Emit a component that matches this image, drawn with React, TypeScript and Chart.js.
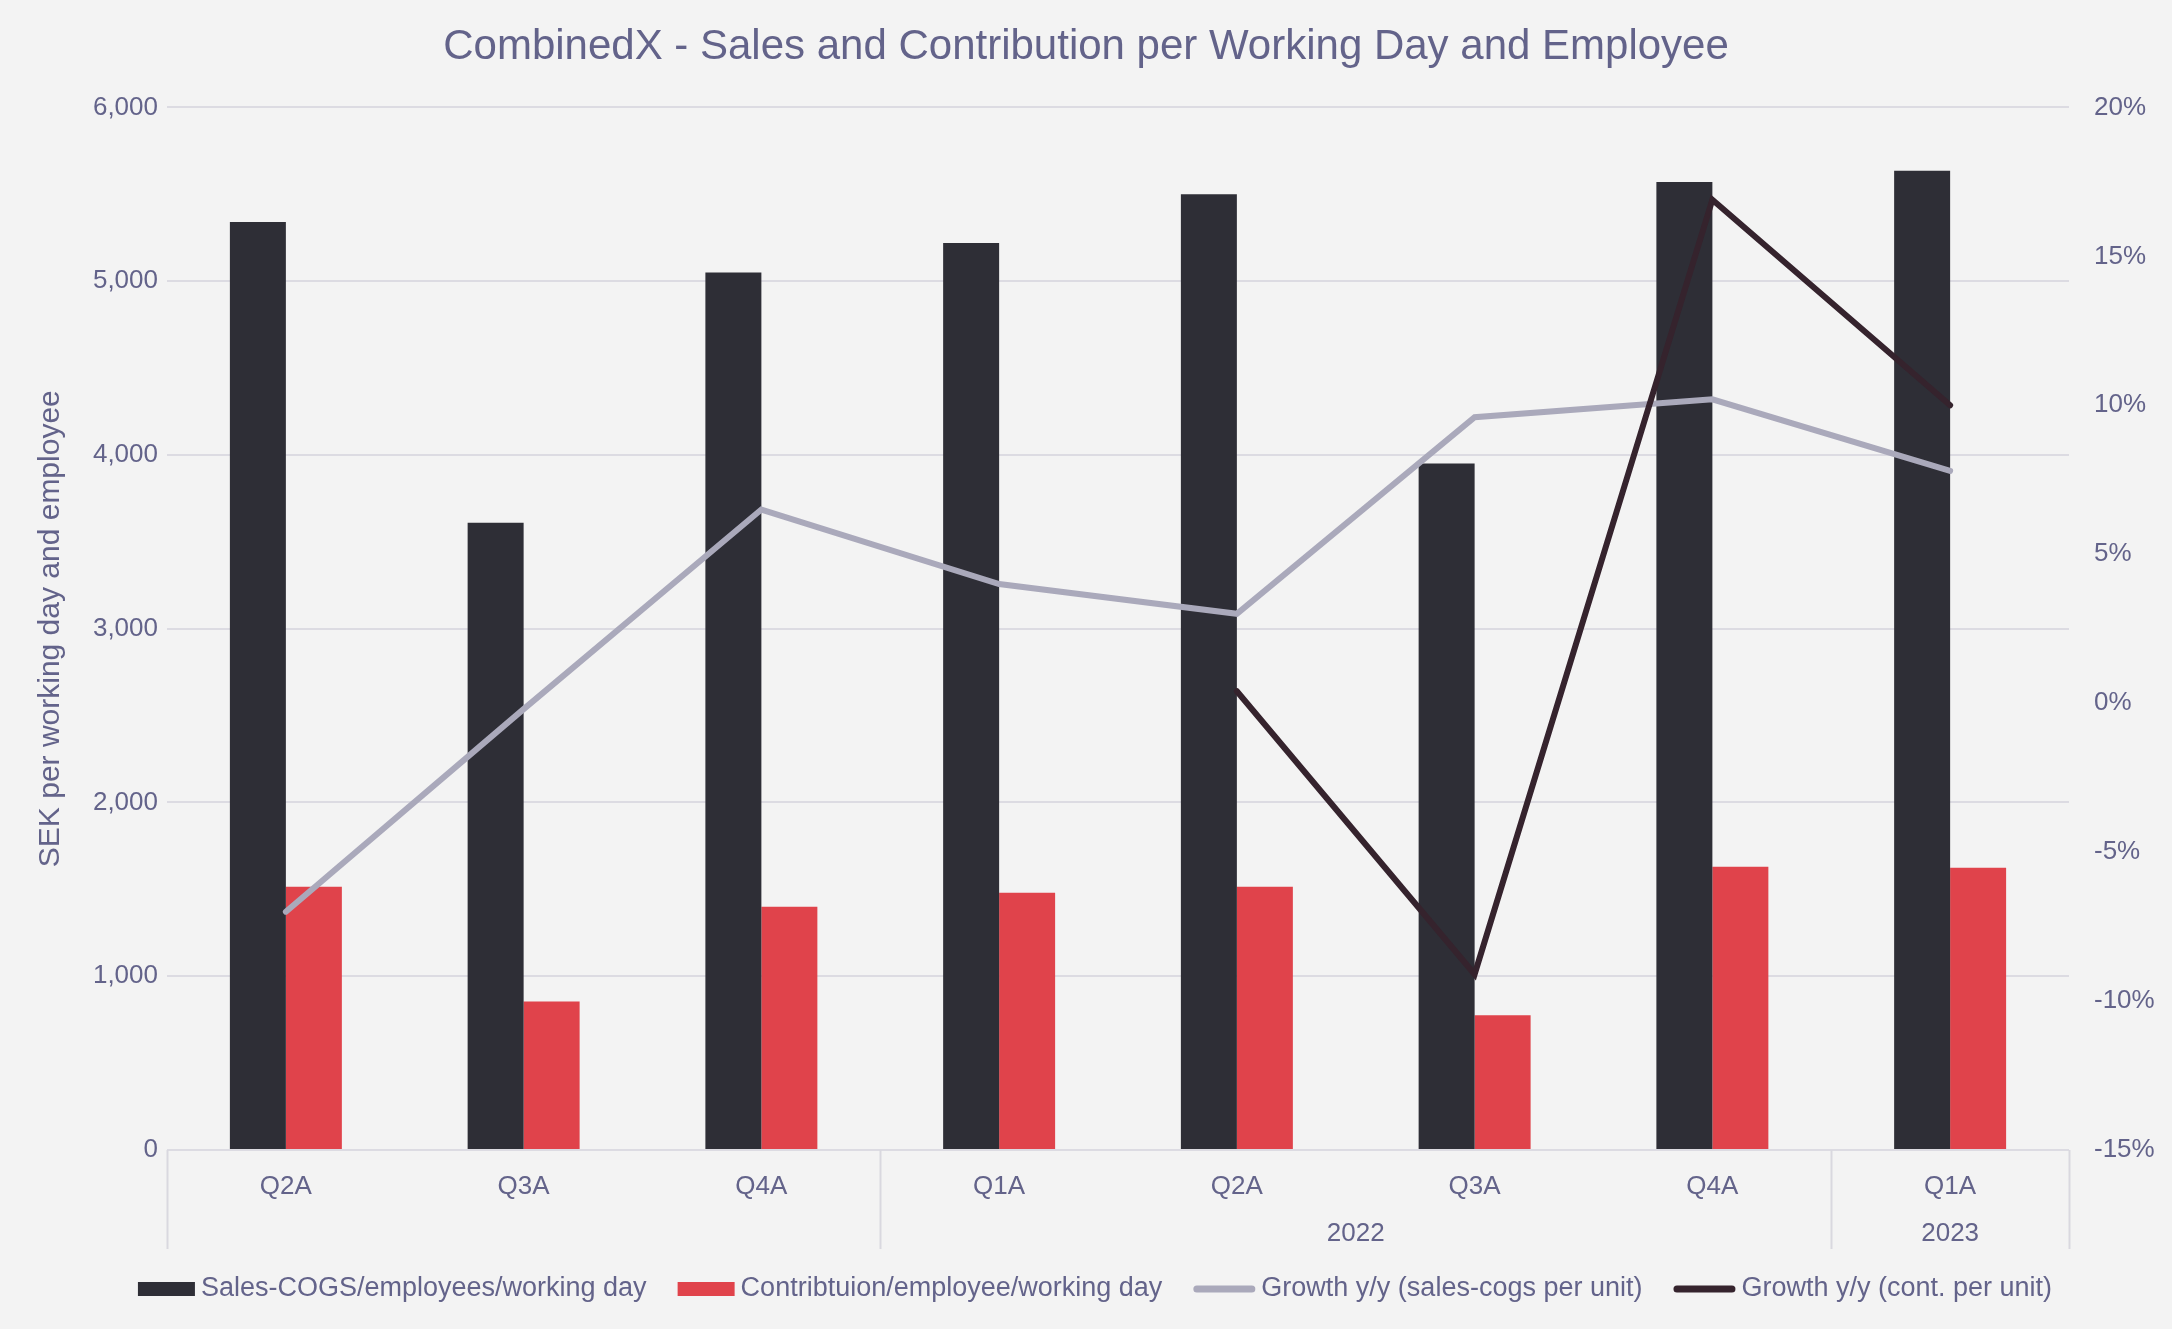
import React, { useEffect, useRef } from 'react';
import { Chart, registerables } from 'chart.js';

Chart.register(...registerables);

const quarters = ['Q2A', 'Q3A', 'Q4A', 'Q1A', 'Q2A', 'Q3A', 'Q4A', 'Q1A'];
const yearGroups = [
  { label: '', from: 0, to: 2 },
  { label: '2022', from: 3, to: 6 },
  { label: '2023', from: 7, to: 7 },
];
const salesCogs = [5340, 3610, 5050, 5220, 5500, 3950, 5570, 5635];
const contribution = [1515, 855, 1400, 1480, 1515, 775, 1630, 1625];
const growthSales = [-7.0, -0.2, 6.5, 4.0, 3.0, 9.6, 10.2, 7.8];
const growthContrib = [null, null, null, null, 0.4, -9.1, 16.9, 10.0];

const seriesNames = [
  'Sales-COGS/employees/working day',
  'Contribtuion/employee/working day',
  'Growth y/y (sales-cogs per unit)',
  'Growth y/y (cont. per unit)',
];
const colors = ['#2e2e36', '#e0434b', '#aaa9bb', '#35232d'];

const TEXT = '#63638a';
const FONT = "'Liberation Sans', Arial, sans-serif";
const BG = '#f3f3f3';

const groupPlugin = {
  id: 'groupAxis',
  afterDraw(chart: any) {
    const ctx = chart.ctx;
    const x = chart.scales.x;
    const step = x.getPixelForValue(1) - x.getPixelForValue(0);
    const top = chart.chartArea.bottom;
    ctx.save();
    ctx.strokeStyle = '#d9d8df';
    ctx.lineWidth = 2;
    const edges: number[] = [];
    yearGroups.forEach((g, i) => {
      if (i === 0) edges.push(x.getPixelForValue(g.from) - step / 2);
      edges.push(x.getPixelForValue(g.to) + step / 2);
    });
    edges.forEach((e) => {
      ctx.beginPath();
      ctx.moveTo(Math.round(e) + 0.5, top);
      ctx.lineTo(Math.round(e) + 0.5, top + 99);
      ctx.stroke();
    });
    ctx.fillStyle = TEXT;
    ctx.font = `26px ${FONT}`;
    ctx.textAlign = 'center';
    ctx.textBaseline = 'middle';
    yearGroups.forEach((g) => {
      if (!g.label) return;
      const cx = (x.getPixelForValue(g.from) + x.getPixelForValue(g.to)) / 2;
      ctx.fillText(g.label, cx, top + 84);
    });

    // legend
    ctx.font = `27px ${FONT}`;
    const markerW = [57, 57, 62, 62];
    const gap = 6;
    const itemGap = 31;
    const widths = seriesNames.map((n, i) => markerW[i] + gap + ctx.measureText(n).width);
    const total = widths.reduce((a, b) => a + b, 0) + itemGap * (widths.length - 1);
    let lx = (chart.width - total) / 2 + 9;
    const ly = 1289;
    seriesNames.forEach((n, i) => {
      if (i < 2) {
        ctx.fillStyle = colors[i];
        ctx.fillRect(lx, ly - 7, markerW[i], 14);
      } else {
        ctx.strokeStyle = colors[i];
        ctx.lineWidth = 7;
        ctx.lineCap = 'round';
        ctx.beginPath();
        ctx.moveTo(lx + 3.5, ly);
        ctx.lineTo(lx + markerW[i] - 3.5, ly);
        ctx.stroke();
      }
      ctx.fillStyle = TEXT;
      ctx.textAlign = 'left';
      ctx.fillText(n, lx + markerW[i] + gap, ly);
      lx += widths[i] + itemGap;
    });
    ctx.restore();
  },
};

export default function App() {
  const ref = useRef<HTMLCanvasElement>(null);
  useEffect(() => {
    document.body.style.margin = '0';
    document.body.style.background = BG;
    const chart = new Chart(ref.current as HTMLCanvasElement, {
      type: 'bar',
      data: {
        labels: quarters,
        datasets: [
          {
            type: 'bar',
            label: seriesNames[0],
            data: salesCogs,
            backgroundColor: colors[0],
            yAxisID: 'y',
            order: 2,
            categoryPercentage: 0.471,
            barPercentage: 1,
          },
          {
            type: 'bar',
            label: seriesNames[1],
            data: contribution,
            backgroundColor: colors[1],
            yAxisID: 'y',
            order: 2,
            categoryPercentage: 0.471,
            barPercentage: 1,
          },
          {
            type: 'line',
            label: seriesNames[2],
            data: growthSales,
            borderColor: colors[2],
            backgroundColor: colors[2],
            borderWidth: 6,
            borderCapStyle: 'round',
            pointRadius: 0,
            yAxisID: 'y1',
            order: 1,
          },
          {
            type: 'line',
            label: seriesNames[3],
            data: growthContrib,
            borderColor: colors[3],
            backgroundColor: colors[3],
            borderWidth: 6,
            borderCapStyle: 'round',
            pointRadius: 0,
            yAxisID: 'y1',
            order: 0,
            spanGaps: false,
          },
        ] as any,
      },
      options: {
        animation: false,
        responsive: false,
        maintainAspectRatio: false,
        layout: { padding: { left: 0, right: 0, top: 0, bottom: 69 } },
        plugins: {
          legend: { display: false },
          tooltip: { enabled: false },
          title: {
            display: true,
            text: 'CombinedX - Sales and Contribution per Working Day and Employee',
            color: TEXT,
            font: { family: FONT, size: 42, weight: 'normal' },
            padding: { top: 22, bottom: 35 },
          },
        },
        scales: {
          x: {
            grid: { display: false, drawTicks: false },
            border: { display: false },
            ticks: { color: TEXT, font: { family: FONT, size: 26 }, padding: 21, maxRotation: 0 },
            afterFit: (s: any) => {
              s.height = 110;
            },
          },
          y: {
            position: 'left',
            min: 0,
            max: 6000,
            ticks: {
              stepSize: 1000,
              color: TEXT,
              font: { family: FONT, size: 26 },
              padding: 9,
              callback: (v: any) => Number(v).toLocaleString('en-US'),
            },
            grid: { color: '#dcdbe2', lineWidth: 2, drawTicks: false },
            border: { display: false },
            title: {
              display: true,
              text: 'SEK per working day and employee',
              color: TEXT,
              font: { family: FONT, size: 30 },
              padding: { top: 33, bottom: 0 },
            },
            afterFit: (s: any) => {
              s.width = 167;
            },
          },
          y1: {
            position: 'right',
            min: -15,
            max: 20,
            ticks: {
              stepSize: 5,
              color: TEXT,
              font: { family: FONT, size: 26 },
              padding: 25,
              callback: (v: any) => `${v}%`,
            },
            grid: { display: false, drawTicks: false },
            border: { display: false },
            afterFit: (s: any) => {
              s.width = 103;
            },
          },
        },
      } as any,
      plugins: [groupPlugin],
    });
    return () => chart.destroy();
  }, []);
  return (
    <div style={{ width: 2172, height: 1329, background: BG }}>
      <canvas ref={ref} width={2172} height={1329} style={{ display: 'block' }} />
    </div>
  );
}
